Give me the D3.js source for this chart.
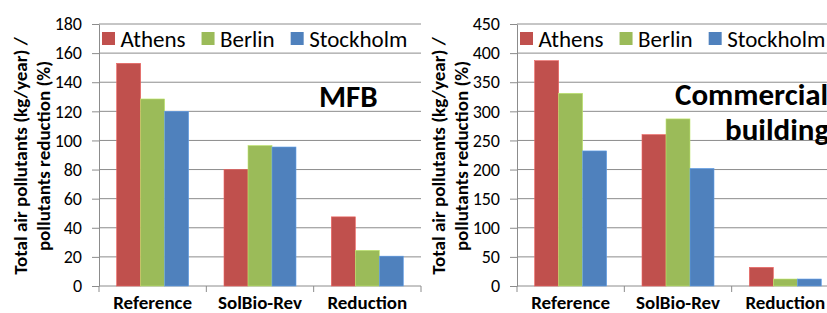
<!DOCTYPE html>
<html>
<head>
<meta charset="utf-8">
<script src="https://cdn.jsdelivr.net/npm/d3@7"></script>
<style>
  body { margin: 0; background: #fff; }
  svg { display: block; font-family: Calibri, Carlito, "Liberation Sans", Arial, sans-serif; }
</style>
</head>
<body>
<svg id="chart" width="827" height="313"></svg>
<script>
const categories = ["Reference", "SolBio-Rev", "Reduction"];
const cities = ["Athens", "Berlin", "Stockholm"];
const colors = ["#C0504D", "#9BBB59", "#4F81BD"];

// MFB panel (kg/year or %)
const mfbAthens = [153, 80, 47.5];
const mfbBerlin = [128.5, 96.5, 24.5];
const mfbStockholm = [120, 95.5, 20.5];
const mfbTicks = [0, 20, 40, 60, 80, 100, 120, 140, 160, 180];

// Commercial building panel
const comAthens = [387, 260, 32];
const comBerlin = [331, 287, 12];
const comStockholm = [232, 202, 12];
const comTicks = [0, 50, 100, 150, 200, 250, 300, 350, 400, 450];

const yTitle = ["Total air pollutants (kg/year) /", "pollutants reduction (%)"];

const svg = d3.select("#chart");
const plotW = 322, plotH = 262, plotTop = 24;

function drawPanel(left, series, ticks, label) {
  const g = svg.append("g").attr("transform", `translate(${left},${plotTop})`);

  const x = d3.scaleBand().domain(categories).range([0, plotW]);
  const xSub = d3.scaleBand().domain(cities).range([0, x.step()]).paddingOuter(0.736);
  const y = d3.scaleLinear().domain([0, d3.max(ticks)]).range([plotH, 0]);

  // gridlines
  g.selectAll(".grid")
    .data(ticks)
    .enter()
    .append("line")
    .attr("x1", 0)
    .attr("x2", plotW)
    .attr("y1", d => y(d))
    .attr("y2", d => y(d))
    .attr("stroke", "#8c8c8c")
    .attr("stroke-width", 1);

  // y axis
  const yAxis = g.append("g")
    .call(d3.axisLeft(y).tickValues(ticks).tickSizeInner(7).tickSizeOuter(0).tickPadding(10));
  yAxis.select(".domain").attr("stroke", "#8c8c8c");
  yAxis.selectAll(".tick line").attr("stroke", "#8c8c8c");
  yAxis.selectAll("text")
    .attr("font-size", 18)
    .attr("fill", "#000")
    .style("font-family", "Calibri, Carlito, 'Liberation Sans', Arial, sans-serif");

  // x axis: ticks between groups
  g.selectAll(".xtick")
    .data(d3.range(categories.length + 1))
    .enter()
    .append("line")
    .attr("x1", i => i * x.step())
    .attr("x2", i => i * x.step())
    .attr("y1", plotH)
    .attr("y2", plotH + 6)
    .attr("stroke", "#8c8c8c");

  g.selectAll(".xlabel")
    .data(categories)
    .enter()
    .append("text")
    .attr("x", d => x(d) + x.bandwidth() / 2)
    .attr("y", plotH + 23)
    .attr("text-anchor", "middle")
    .attr("font-size", 19)
    .attr("font-weight", "bold")
    .text(d => d);

  // bars
  series.forEach((vals, si) => {
    g.selectAll(".bar" + si)
      .data(vals)
      .enter()
      .append("rect")
      .attr("x", (d, i) => x(categories[i]) + xSub(cities[si]))
      .attr("y", d => y(d))
      .attr("width", xSub.bandwidth())
      .attr("height", d => plotH - y(d))
      .attr("fill", colors[si])
      .attr("stroke", d3.color(colors[si]).brighter(0.6))
      .attr("stroke-width", 0.6);
  });

  // legend
  let lx = 3;
  cities.forEach((c, i) => {
    g.append("rect")
      .attr("x", lx)
      .attr("y", 8)
      .attr("width", 13)
      .attr("height", 13)
      .attr("fill", colors[i]);
    const t = g.append("text")
      .attr("x", lx + 18.5)
      .attr("y", 23)
      .attr("font-size", 23)
      .attr("fill", "#000")
      .text(c);
    lx += 18.5 + t.node().getComputedTextLength() + 16;
  });

  // y title
  const tt = g.append("text")
    .attr("transform", `translate(${-72},${plotH / 2 + 1}) rotate(-90)`)
    .attr("text-anchor", "middle")
    .attr("font-size", 19)
    .attr("font-weight", "bold");
  yTitle.forEach((line, i) => {
    tt.append("tspan")
      .attr("x", 0)
      .attr("dy", i === 0 ? 0 : 23)
      .text(line);
  });

  // panel label
  label.forEach(l => {
    g.append("text")
      .attr("x", l.x - left)
      .attr("y", l.y - plotTop)
      .attr("font-size", 31)
      .attr("font-weight", "bold")
      .text(l.text);
  });
}

drawPanel(99, [mfbAthens, mfbBerlin, mfbStockholm], mfbTicks,
  [{ text: "MFB", x: 319, y: 107 }]);
drawPanel(517, [comAthens, comBerlin, comStockholm], comTicks,
  [{ text: "Commercial", x: 675, y: 105 }, { text: "building", x: 725, y: 140 }]);
</script>
</body>
</html>
